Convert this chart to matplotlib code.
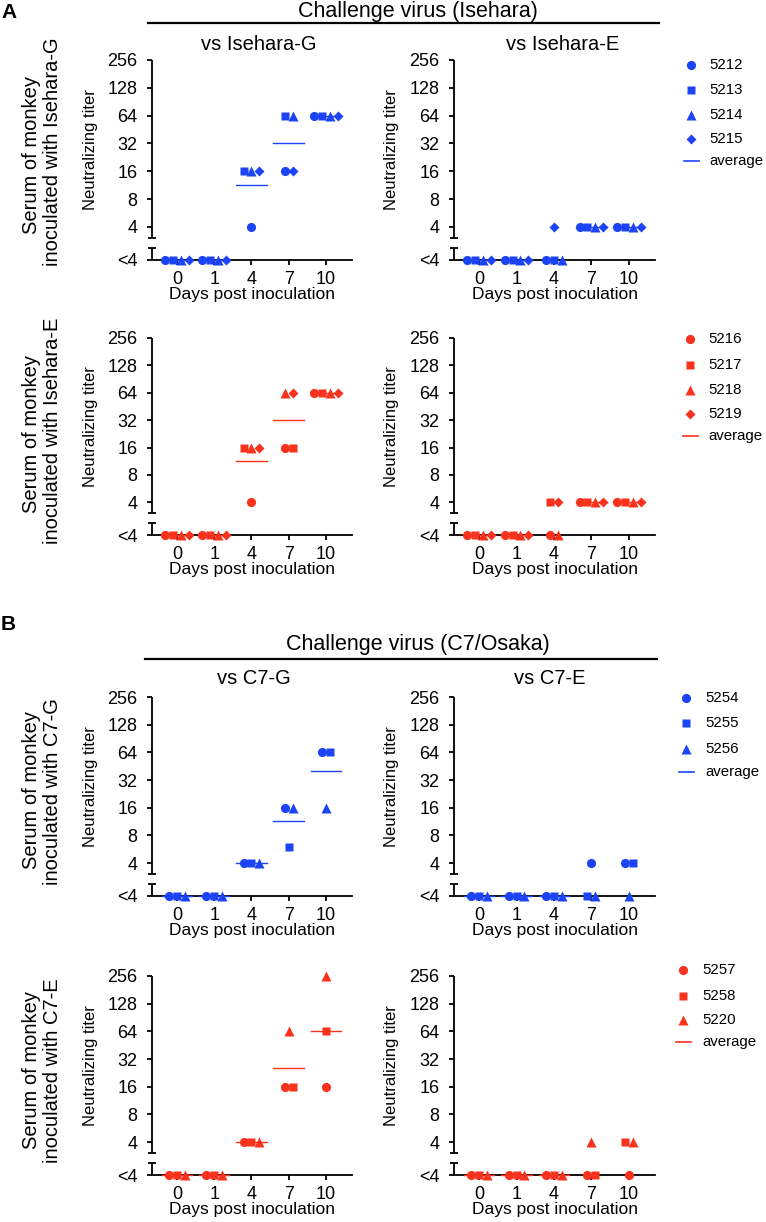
import numpy as np
import matplotlib
matplotlib.use('Agg')
import matplotlib.pyplot as plt
from matplotlib.lines import Line2D
from matplotlib.transforms import blended_transform_factory

plt.rcParams['font.family'] = ['Liberation Sans', 'DejaVu Sans']

# ---------------- data ----------------
days = [0, 1, 4, 7, 10]
y_tick_labels = ['<4', '4', '8', '16', '32', '64', '128', '256']

ids_A_G = ['5212', '5213', '5214', '5215']
ids_A_E = ['5216', '5217', '5218', '5219']
ids_B_G = ['5254', '5255', '5256']
ids_B_E = ['5257', '5258', '5220']

# neutralizing titer, rows = monkeys, columns = days ; 0 means "<4"
A_G_vs_G = [[0, 0, 4, 16, 64], [0, 0, 16, 64, 64], [0, 0, 16, 64, 64], [0, 0, 16, 16, 64]]
A_G_vs_E = [[0, 0, 0, 4, 4], [0, 0, 0, 4, 4], [0, 0, 0, 4, 4], [0, 0, 4, 4, 4]]
A_E_vs_G = [[0, 0, 4, 16, 64], [0, 0, 16, 16, 64], [0, 0, 16, 64, 64], [0, 0, 16, 64, 64]]
A_E_vs_E = [[0, 0, 0, 4, 4], [0, 0, 4, 4, 4], [0, 0, 0, 4, 4], [0, 0, 4, 4, 4]]
B_G_vs_G = [[0, 0, 4, 16, 64], [0, 0, 4, 6, 64], [0, 0, 4, 16, 16]]
B_G_vs_E = [[0, 0, 0, 4, 4], [0, 0, 0, 0, 4], [0, 0, 0, 0, 0]]
B_E_vs_G = [[0, 0, 4, 16, 16], [0, 0, 4, 16, 64], [0, 0, 4, 64, 256]]
B_E_vs_E = [[0, 0, 0, 0, 0], [0, 0, 0, 0, 4], [0, 0, 0, 4, 4]]

BLUE = '#1c44f4'
RED = '#f8321c'

# ---------------- layout ----------------
W, H = 766, 1222
fig = plt.figure(figsize=(W / 100, H / 100), dpi=100)


def fx(px):
    return px / W


def fy(py):
    return 1 - py / H


LT4 = 0.81      # display level of "<4" (log2 units, 4 -> 2)
BRK_HI = 1.60   # lower end of upper axis segment
BRK_LO = 1.24   # upper end of lower axis segment
SP = 0.21       # spread of tied points
MARKERS = ['o', 's', '^', 'D']
MS = {'o': 6.6, 's': 5.9, '^': 7.0, 'D': 4.9}


def ypos(v):
    return LT4 if v < 4 else np.log2(v)


def draw_panel(x0, x1, ytop, ybot, data, color, title=None, title_x=None, title_y=None):
    ax = fig.add_axes([fx(x0), fy(ybot), (x1 - x0) / W, (ybot - ytop) / H])
    ax.set_xlim(-0.67, 4.7)
    ax.set_ylim(LT4, 8.0)
    for s in ['top', 'right', 'left']:
        ax.spines[s].set_visible(False)
    ax.spines['bottom'].set_linewidth(1.3)
    ax.set_xticks(range(len(days)))
    ax.set_xticklabels([str(d) for d in days])
    ax.set_yticks([LT4] + list(range(2, 9)))
    ax.set_yticklabels(y_tick_labels)
    ax.tick_params(axis='both', length=3.5, width=1.3, labelsize=13, direction='out')
    ax.tick_params(axis='y', pad=7)
    ax.tick_params(axis='x', pad=4.5)
    trans = blended_transform_factory(ax.transAxes, ax.transData)
    ax.plot([0, 0], [BRK_HI, 8.0], transform=trans, color='k', lw=1.3, clip_on=False,
            solid_capstyle='butt')
    ax.plot([0, 0], [LT4, BRK_LO], transform=trans, color='k', lw=1.3, clip_on=False,
            solid_capstyle='butt')
    ax.plot([0, 0], [BRK_HI, BRK_LO], transform=trans, color='k', ls='none', marker='_',
            ms=5.5, mew=1.3, clip_on=False)

    n = len(data)
    for d in range(len(days)):
        vals = [data[m][d] for m in range(n)]
        groups = {}
        for m, v in enumerate(vals):
            groups.setdefault(v, []).append(m)
        for v, members in groups.items():
            k = len(members)
            for i, m in enumerate(members):
                mk = MARKERS[m]
                ax.plot(d + (i - (k - 1) / 2) * SP, ypos(v), marker=mk, ms=MS[mk], color=color,
                        mec='none', ls='none', clip_on=False, zorder=4)
        if all(v < 4 for v in vals):
            ym = LT4
        else:
            ym = np.mean([np.log2(v) if v >= 4 else 1.0 for v in vals])
            if ym < 2:
                ym = None
        if ym is not None:
            ax.plot([d - 0.41, d + 0.41], [ym, ym], color=color, lw=1.0, zorder=3, clip_on=False)

    ax.set_xlabel('Days post inoculation', fontsize=12.5)
    ax.xaxis.label.set(va='center')
    ax.xaxis.set_label_coords(0.5, -0.175)
    ax.set_ylabel('Neutralizing titer', fontsize=12)
    ax.yaxis.label.set(va='center', ha='center', rotation_mode='default')
    ax.yaxis.set_label_coords(-0.31, 0.55)
    if title:
        fig.text(fx(title_x), fy(title_y), title, ha='center', va='baseline', fontsize=14.5)
    return ax


def draw_legend(mx, lx, ys, ids, color):
    for i, lab in enumerate(ids):
        mk = MARKERS[i]
        fig.add_artist(Line2D([fx(mx)], [fy(ys[i])], marker=mk, ms=MS[mk], color=color,
                              mec='none', ls='none'))
        fig.text(fx(lx), fy(ys[i]), lab, ha='left', va='center', fontsize=10.8)
    ya = ys[len(ids)]
    fig.add_artist(Line2D([fx(mx - 7), fx(mx + 8)], [fy(ya), fy(ya)], color=color, lw=1.2))
    fig.text(fx(lx), fy(ya), 'average', ha='left', va='center', fontsize=10.8)


def row_label(y1, y2, second):
    fig.text(fx(32), fy(y1), 'Serum of monkey', rotation=90, ha='center', va='center', fontsize=14.5)
    fig.text(fx(53), fy(y2), second, rotation=90, ha='center', va='center', fontsize=14.5)


LX = (152, 352)
RX = (454, 655)

# ----- Panel A -----
fig.text(fx(1), fy(18), 'A', fontweight='bold', fontsize=15, va='baseline')
fig.text(fx(418), fy(17), 'Challenge virus (Isehara)', ha='center', va='baseline', fontsize=15.5)
fig.add_artist(Line2D([fx(148), fx(659)], [fy(23), fy(23)], color='k', lw=1.6))

draw_panel(*LX, 60, 260, A_G_vs_G, BLUE, 'vs Isehara-G', 259, 50)
draw_panel(*RX, 60, 260, A_G_vs_E, BLUE, 'vs Isehara-E', 563, 50)
draw_legend(691, 709, [65, 90, 115, 139, 161], ids_A_G, BLUE)
draw_panel(*LX, 338, 535, A_E_vs_G, RED)
draw_panel(*RX, 338, 535, A_E_vs_E, RED)
draw_legend(690, 708, [339, 365, 390, 414, 436], ids_A_E, RED)
row_label(155, 152, 'inoculated with Isehara-G')
row_label(434, 431, 'inoculated with Isehara-E')

# ----- Panel B -----
fig.text(fx(1), fy(630), 'B', fontweight='bold', fontsize=15, va='baseline')
fig.text(fx(418), fy(650), 'Challenge virus (C7/Osaka)', ha='center', va='baseline', fontsize=15.5)
fig.add_artist(Line2D([fx(145), fx(657)], [fy(659), fy(659)], color='k', lw=1.6))

draw_panel(*LX, 697, 896, B_G_vs_G, BLUE, 'vs C7-G', 254, 684)
draw_panel(*RX, 697, 896, B_G_vs_E, BLUE, 'vs C7-E', 550, 684)
draw_legend(686, 705, [698, 723, 749, 772], ids_B_G, BLUE)
draw_panel(*LX, 976, 1175, B_E_vs_G, RED)
draw_panel(*RX, 976, 1175, B_E_vs_E, RED)
draw_legend(683, 702, [970, 996, 1020, 1042], ids_B_E, RED)
row_label(790, 792, 'inoculated with C7-G')
row_label(1070, 1071, 'inoculated with C7-E')

fig.savefig('out.png', dpi=100)
